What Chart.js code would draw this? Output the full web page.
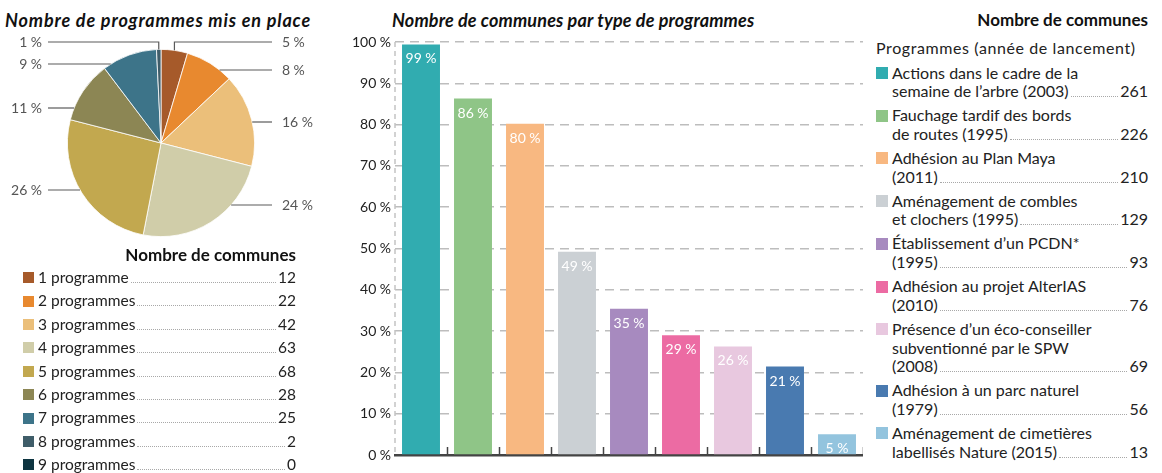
<!DOCTYPE html>
<html lang="fr">
<head>
<meta charset="utf-8">
<title>Programmes environnementaux des communes</title>
<script src="https://cdn.jsdelivr.net/npm/chart.js@4.4.1/dist/chart.umd.min.js"></script>
<style>
  html, body { margin: 0; padding: 0; background: #fff; }
  body { width: 1162px; height: 473px; position: relative; overflow: hidden;
         font-family: Lato, 'Open Sans', sans-serif; color: #222; }
  .abs { position: absolute; }
  .titre { font-weight: 700; font-style: italic; font-size: 18px; line-height: 20px; white-space: nowrap; color: #111; }
  .entete { font-weight: 700; font-size: 17px; line-height: 20px; white-space: nowrap; color: #111; text-align: right; }
  .sw { flex: none; }
  .dots { flex: 1; border-bottom: 1px dotted #a8a8a8; margin: 0 2px; min-width: 4px; }
  #legPie .row { display: flex; align-items: baseline; font-size: 15.5px; height: 23.4px; line-height: 23.4px; }
  #legPie .sw { width: 11px; height: 11px; align-self: center; margin-right: 4px; }
  #legBar { font-size: 16px; line-height: 18.7px; }
  #legBar .item { display: flex; margin-bottom: 5.3px; }
  #legBar .sw { width: 12px; height: 12px; margin: 3.4px 4px 0 0; }
  #legBar .txt { flex: 1; }
  #legBar .last { display: flex; align-items: baseline; }
</style>
</head>
<body>

<div class="abs titre" style="left:5px; top:10px; letter-spacing:0.85px;">Nombre de programmes mis en place</div>
<div class="abs titre" style="left:392px; top:10px; letter-spacing:0.15px;">Nombre de communes par type de programmes</div>
<div class="abs entete" style="right:14px; top:10px;">Nombre de communes</div>

<canvas id="pie" class="abs" style="left:0; top:0;" width="330" height="245"></canvas>
<canvas id="bars" class="abs" style="left:340px; top:0;" width="523" height="473"></canvas>

<div class="abs entete" style="left:23px; width:273px; top:245px;">Nombre de communes</div>
<div id="legPie" class="abs" style="left:23px; width:273px; top:266px;"></div>

<div class="abs" style="left:876px; top:38px; font-size:16px; line-height:20px; white-space:nowrap; letter-spacing:0.6px;">Programmes (année de lancement)</div>
<div id="legBar" class="abs" style="left:876px; width:272px; top:63.6px;"></div>

<script>
// ── Camembert : nombre de programmes par commune ─────────────────────────
const nbProgLabels = ['1 programme', '2 programmes', '3 programmes', '4 programmes', '5 programmes',
                      '6 programmes', '7 programmes', '8 programmes', '9 programmes'];
const nbProgCommunes = [12, 22, 42, 63, 68, 28, 25, 2, 0];
const nbProgPourcent = [5, 8, 16, 24, 26, 11, 9, 1, 0];
const nbProgColors = ['#a65a2a', '#e8892f', '#ebbf7a', '#d0cda9', '#c2a84f',
                      '#8c8654', '#3d7489', '#3f5d69', '#0d3440'];

// ── Barres : communes par type de programme ──────────────────────────────
const progLabels = [
  'Actions dans le cadre de la\nsemaine de l\u2019arbre (2003)',
  'Fauchage tardif des bords\nde routes (1995)',
  'Adhésion au Plan Maya\n(2011)',
  'Aménagement de combles\net clochers (1995)',
  'Établissement d\u2019un PCDN*\n(1995)',
  'Adhésion au projet AlterIAS\n(2010)',
  'Présence d\u2019un éco-conseiller\nsubventionné par le SPW\n(2008)',
  'Adhésion à un parc naturel\n(1979)',
  'Aménagement de cimetières\nlabellisés Nature (2015)',
];
const progCommunes = [261, 226, 210, 129, 93, 76, 69, 56, 13];
const progPourcent = [99.4, 86.3, 80.2, 49.2, 35.4, 29.0, 26.3, 21.4, 5.0];
const progColors = ['#31acb0', '#8fc587', '#f8b881', '#cbd0d4', '#a78abf',
                    '#ec6ba3', '#e8c8df', '#497ab0', '#93c4de'];

const yTicks = [0, 10, 20, 30, 40, 50, 60, 70, 80, 90, 100];

const FONT = 'Lato, "Open Sans", sans-serif';
const NNBSP = '\u202F';

// ── Légendes HTML ─────────────────────────────────────────────────────────
const legPie = document.getElementById('legPie');
nbProgLabels.forEach((lab, i) => {
  const row = document.createElement('div');
  row.className = 'row';
  row.innerHTML = `<span class="sw" style="background:${nbProgColors[i]}"></span>` +
    `<span>${lab}</span><span class="dots"></span><span>${nbProgCommunes[i]}</span>`;
  legPie.appendChild(row);
});

const legBar = document.getElementById('legBar');
progLabels.forEach((lab, i) => {
  const lines = lab.split('\n');
  const last = lines.pop();
  const item = document.createElement('div');
  item.className = 'item';
  item.innerHTML = `<span class="sw" style="background:${progColors[i]}"></span>` +
    `<div class="txt">${lines.map(l => `<div>${l}</div>`).join('')}` +
    `<div class="last"><span>${last}</span><span class="dots"></span><span>${progCommunes[i]}</span></div></div>`;
  legBar.appendChild(item);
});

// ── Camembert ─────────────────────────────────────────────────────────────
// hauteur des lignes de rappel, par part
const LEADER_Y = [42, 70, 122, 205, 190, 108, 64, 42, 0];

const pieLeaders = {
  id: 'pieLeaders',
  afterDraw(chart) {
    const { ctx } = chart;
    const meta = chart.getDatasetMeta(0);
    ctx.save();
    ctx.strokeStyle = '#5a5a5a';
    ctx.lineWidth = 1.2;
    ctx.fillStyle = '#555';
    ctx.font = '14px ' + FONT;
    ctx.textBaseline = 'middle';
    meta.data.forEach((arc, i) => {
      if (!nbProgCommunes[i]) return;
      const p = arc.getProps(['x', 'y', 'outerRadius', 'startAngle', 'endAngle'], true);
      const mid = (p.startAngle + p.endAngle) / 2;
      const mx = p.x + p.outerRadius * Math.cos(mid);
      const my = p.y + p.outerRadius * Math.sin(mid);
      const right = mx >= p.x;
      const ly = LEADER_Y[i];
      const dy = ly - p.y;
      const xEnd = right ? 272 : 48;
      ctx.beginPath();
      if (Math.abs(dy) < p.outerRadius - 2) {
        const ex = p.x + (right ? 1 : -1) * Math.sqrt(p.outerRadius ** 2 - dy * dy);
        ctx.moveTo(ex, ly);
      } else {
        ctx.moveTo(mx, my);
        ctx.lineTo(mx, ly);
      }
      ctx.lineTo(xEnd, ly);
      ctx.stroke();
      const txt = nbProgPourcent[i] + NNBSP + '%';
      ctx.textAlign = right ? 'left' : 'right';
      ctx.fillText(txt, right ? 282 : 42, ly);
    });
    ctx.restore();
  },
};

new Chart(document.getElementById('pie'), {
  type: 'pie',
  plugins: [pieLeaders],
  data: {
    labels: nbProgLabels,
    datasets: [{
      data: nbProgCommunes,
      backgroundColor: nbProgColors,
      borderColor: '#ffffff',
      borderWidth: 0.8,
    }],
  },
  options: {
    responsive: false,
    animation: false,
    layout: { padding: { left: 67, right: 75, top: 49, bottom: 8 } },
    plugins: { legend: { display: false }, tooltip: { enabled: false } },
  },
});

// ── Barres ────────────────────────────────────────────────────────────────
const barDecor = {
  id: 'barDecor',
  beforeDatasetsDraw(chart) {
    // axe vertical pointillé
    const { ctx, chartArea } = chart;
    ctx.save();
    ctx.strokeStyle = '#c4c4c4';
    ctx.lineWidth = 1.5;
    ctx.setLineDash([5, 4]);
    ctx.beginPath();
    ctx.moveTo(chartArea.left, chartArea.top);
    ctx.lineTo(chartArea.left, chartArea.bottom);
    ctx.stroke();
    ctx.restore();
  },
  afterDraw(chart) {
    const { ctx, scales } = chart;
    const x = scales.x;
    const bottom = scales.y.getPixelForValue(0);
    ctx.save();
    // petites graduations entre les catégories
    ctx.strokeStyle = '#444';
    ctx.lineWidth = 1.5;
    const n = progLabels.length;
    const step = x.getPixelForTick(1) - x.getPixelForTick(0);
    for (let i = 1; i <= n; i++) {
      const px = Math.round(x.getPixelForTick(i - 1) + step / 2) + 0.5;
      ctx.beginPath();
      ctx.moveTo(px, bottom);
      ctx.lineTo(px, bottom - 8);
      ctx.stroke();
    }
    // étiquettes des barres
    ctx.fillStyle = '#ffffff';
    ctx.font = '14px ' + FONT;
    ctx.textAlign = 'center';
    ctx.textBaseline = 'middle';
    chart.getDatasetMeta(0).data.forEach((bar, i) => {
      ctx.fillText(Math.round(progPourcent[i]) + NNBSP + '%', bar.x, bar.y + 14.5);
    });
    ctx.restore();
  },
};

new Chart(document.getElementById('bars'), {
  type: 'bar',
  plugins: [barDecor],
  data: {
    labels: progLabels,
    datasets: [{
      data: progPourcent,
      backgroundColor: progColors,
      borderWidth: 0,
      categoryPercentage: 1,
      barPercentage: 0.73,
    }],
  },
  options: {
    responsive: false,
    animation: false,
    layout: { padding: { left: 0, right: 0, top: 42, bottom: 18 } },
    plugins: { legend: { display: false }, tooltip: { enabled: false } },
    scales: {
      x: {
        grid: { display: false },
        ticks: { display: false },
        border: { display: true, color: '#444', width: 2.5 },
        afterFit(s) { s.height = 0; },
      },
      y: {
        min: 0,
        max: 100,
        afterBuildTicks(s) { s.ticks = yTicks.map(v => ({ value: v })); },
        afterFit(s) { s.width = 55; },
        grid: { color: '#bdbdbd', lineWidth: 1.5, drawTicks: false },
        border: { display: false, dash: [9, 6] },
        ticks: {
          color: '#222',
          padding: 4,
          font: { family: FONT, size: 14 },
          callback: v => v + NNBSP + '%',
        },
      },
    },
  },
});
</script>
</body>
</html>
